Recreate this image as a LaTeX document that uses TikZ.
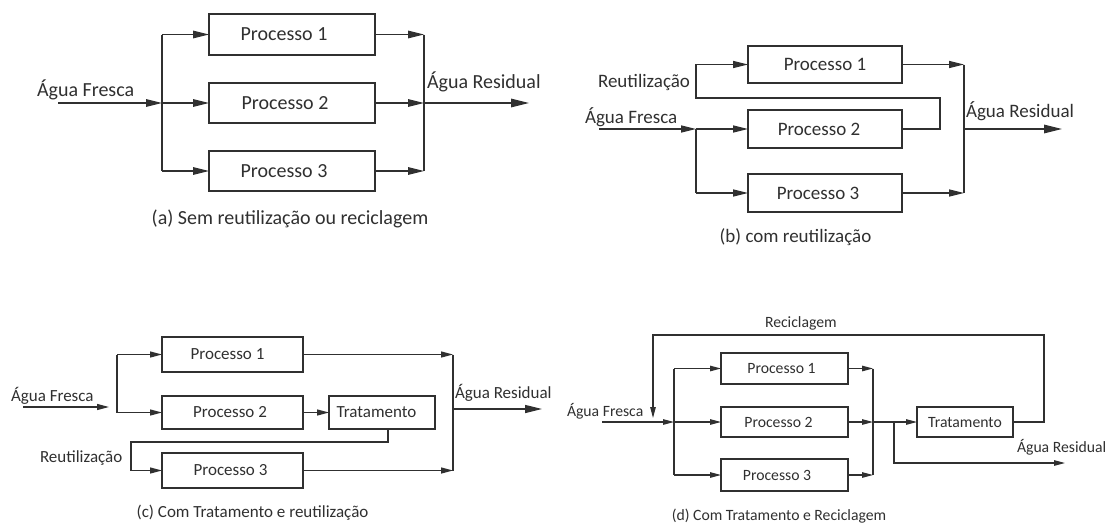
\documentclass[tikz,border=0pt]{standalone}
\usepackage{fontspec}
\setmainfont{Carlito}
\usetikzlibrary{arrows.meta}
\definecolor{ink}{HTML}{303030}
\begin{document}
\begin{tikzpicture}[x=1pt,y=-1pt, color=ink,
  every node/.style={inner sep=0pt, outer sep=0pt},
  pbox/.style={draw, rectangle},
  % one style per panel: font size, cap height, stroke and arrow size
  pa/.style={every node/.append style={font=\fontsize{20}{24}\selectfont, text height=12.9pt, text depth=0pt},
             line width=1.4pt, tip/.style={-{Triangle[length=16pt,width=7.5pt]}},
             bigtip/.style={-{Triangle[length=18pt,width=8.5pt]}}},
  pb/.style={every node/.append style={font=\fontsize{19}{23}\selectfont, text height=12.2pt, text depth=0pt},
             line width=1.4pt, tip/.style={-{Triangle[length=15pt,width=7pt]}},
             bigtip/.style={-{Triangle[length=18pt,width=8.5pt]}}},
  pc/.style={every node/.append style={font=\fontsize{17}{21}\selectfont, text height=10.9pt, text depth=0pt},
             line width=1.3pt, tip/.style={-{Triangle[length=12pt,width=6pt]}},
             bigtip/.style={-{Triangle[length=17pt,width=8pt]}}},
  pd/.style={every node/.append style={font=\fontsize{15.7}{19}\selectfont, text height=10.1pt, text depth=0pt},
             line width=1.2pt, tip/.style={-{Triangle[length=11pt,width=5.5pt]}},
             bigtip/.style={-{Triangle[length=11pt,width=5.5pt]}}}
]
\fill[white] (0,0) rectangle (1110,525);
\useasboundingbox (0,0) rectangle (1110,525);

% ---------- (a) no reuse, no recycling ----------
\begin{scope}[pa]
  \node[pbox, minimum width=166pt, minimum height=41pt, label={[xshift=-8pt]center:Processo 1}] (a1) at (292,34.5) {};
  \node[pbox, minimum width=166pt, minimum height=40pt, label={[xshift=-7pt]center:Processo 2}] (a2) at (292,103) {};
  \node[pbox, minimum width=166pt, minimum height=40pt, label={[xshift=-8pt]center:Processo 3}] (a3) at (292,171) {};
  \coordinate (ain) at (58,103);
  \coordinate (asplit) at (162,103);
  \coordinate (amerge) at (424,103);
  \coordinate (aout) at (529,103);
  \draw[tip] (ain) -- (asplit);
  \draw (asplit |- a1) -- (asplit |- a3);
  \draw[tip] (asplit |- a1) -- (a1.west);
  \draw[tip] (asplit) -- (a2.west);
  \draw[tip] (asplit |- a3) -- (a3.west);
  \draw[tip] (a1.east) -- (amerge |- a1);
  \draw[tip] (a2.east) -- (amerge);
  \draw[tip] (a3.east) -- (amerge |- a3);
  \draw (amerge |- a1) -- (amerge |- a3);
  \draw[bigtip] (amerge) -- (aout);
  \node[anchor=west] (afresh) at (37,90.5) {Água Fresca};
  \node[anchor=west] (awaste) at (427,82.5) {Água Residual};
  \node (acap) at (290,218.5) {(a) Sem reutilização ou reciclagem};
\end{scope}

% ---------- (b) with reuse ----------
\begin{scope}[pb]
  \node[pbox, minimum width=154pt, minimum height=37pt, label={[xshift=0pt]center:Processo 1}] (b1) at (825,64.5) {};
  \node[pbox, minimum width=154pt, minimum height=38pt, label={[xshift=-6pt]center:Processo 2}] (b2) at (825,129) {};
  \node[pbox, minimum width=154pt, minimum height=38pt, label={[xshift=-7pt]center:Processo 3}] (b3) at (825,193) {};
  \coordinate (bin) at (599,129);
  \coordinate (bsplit) at (696,129);
  \coordinate (bturn) at (940,98);
  \coordinate (bleft) at (696,98);
  \coordinate (bmerge) at (964,129);
  \coordinate (bout) at (1062,129);
  \draw[tip] (bin) -- (bsplit);
  \draw (bsplit) -- (bsplit |- b3);
  \draw[tip] (bsplit) -- (b2.west);
  \draw[tip] (bsplit |- b3) -- (b3.west);
  \draw[tip] (b2.east) -- (bturn |- b2) -- (bturn) -- (bleft) -- (bleft |- b1) -- (b1.west);
  \draw[tip] (b1.east) -- (bmerge |- b1);
  \draw[tip] (b3.east) -- (bmerge |- b3);
  \draw (bmerge |- b1) -- (bmerge |- b3);
  \draw[bigtip] (bmerge) -- (bout);
  \node[anchor=west] (breuse) at (598,81) {Reutilização};
  \node[anchor=west] (bfresh) at (585,117) {Água Fresca};
  \node[anchor=west] (bwaste) at (966,111) {Água Residual};
  \node (bcap) at (795.5,236) {(b) com reutilização};
\end{scope}

% ---------- (c) treatment and reuse ----------
\begin{scope}[pc]
  \node[pbox, minimum width=141pt, minimum height=35pt, label={[xshift=-5pt]center:Processo 1}] (c1) at (232.5,354.5) {};
  \node[pbox, minimum width=141pt, minimum height=33pt, label={[xshift=-2.5pt]center:Processo 2}] (c2) at (232.5,412.5) {};
  \node[pbox, minimum width=106pt, minimum height=33pt, label={[xshift=-5.5pt]center:Tratamento}] (ct) at (382,412.5) {};
  \node[pbox, minimum width=141pt, minimum height=35pt, label={[xshift=-2pt]center:Processo 3}] (c3) at (232.5,470.5) {};
  \coordinate (cin) at (23,407);
  \coordinate (cend) at (109,407);
  \coordinate (csplit) at (117,412.5);
  \coordinate (cdrop) at (388,442);
  \coordinate (cleft) at (131,442);
  \coordinate (cmerge) at (453,409);
  \coordinate (cout) at (542,409);
  \draw[tip] (cin) -- (cend);
  \draw (csplit) -- (csplit |- c1);
  \draw[tip] (csplit |- c1) -- (c1.west);
  \draw[tip] (csplit) -- (c2.west);
  \draw[tip] (c2.east) -- (ct.west);
  \draw[tip] (cdrop |- ct.south) -- (cdrop) -- (cleft) -- (cleft |- c3) -- (c3.west);
  \draw[tip] (c1.east) -- (cmerge |- c1);
  \draw[tip] (c3.east) -- (cmerge |- c3);
  \draw (cmerge |- c1) -- (cmerge |- c3);
  \draw[bigtip] (cmerge) -- (cout);
  \node[anchor=west] (cfresh) at (11,396.5) {Água Fresca};
  \node[anchor=west] (creuse) at (40,457.5) {Reutilização};
  \node[anchor=west] (cwaste) at (455,393.5) {Água Residual};
  \node (ccap) at (252.5,512.5) {(c) Com Tratamento e reutilização};
\end{scope}

% ---------- (d) treatment and recycling ----------
\begin{scope}[pd]
  \node[pbox, minimum width=127pt, minimum height=31pt, label={[xshift=-3pt]center:Processo 1}] (d1) at (784.5,368.5) {};
  \node[pbox, minimum width=127pt, minimum height=30pt, label={[xshift=-6pt]center:Processo 2}] (d2) at (784.5,422) {};
  \node[pbox, minimum width=127pt, minimum height=32pt, label={[xshift=-7.5pt]center:Processo 3}] (d3) at (784.5,475) {};
  \node[pbox, minimum width=96pt, minimum height=30pt, label={center:Tratamento}] (dt) at (965,422) {};
  \coordinate (din) at (602,422);
  \coordinate (dsplit) at (674,422);
  \coordinate (dmerge) at (873,422);
  \coordinate (dback) at (1044,335);
  \coordinate (dtop) at (653,335);
  \coordinate (drec) at (653,418);
  \coordinate (dbranch) at (894,463);
  \coordinate (dout) at (1065,463);
  \draw[tip] (din) -- (dsplit);
  \draw (dsplit |- d1) -- (dsplit |- d3);
  \draw[tip] (dsplit |- d1) -- (d1.west);
  \draw[tip] (dsplit) -- (d2.west);
  \draw[tip] (dsplit |- d3) -- (d3.west);
  \draw[tip] (d1.east) -- (dmerge |- d1);
  \draw[tip] (d2.east) -- (dmerge);
  \draw[tip] (d3.east) -- (dmerge |- d3);
  \draw (dmerge |- d1) -- (dmerge |- d3);
  \draw[tip] (dmerge) -- (dt.west);
  \draw[tip] (dt.east) -- (dback |- dt) -- (dback) -- (dtop) -- (drec);
  \draw[tip] (dbranch |- dt) -- (dbranch) -- (dout);
  \node[anchor=west] (drecy) at (765,322) {Reciclagem};
  \node[anchor=west] (dfresh) at (567,411) {Água Fresca};
  \node[anchor=west] (dwaste) at (1017,447) {Água Residual};
  \node (dcap) at (779,515) {(d) Com Tratamento e Reciclagem};
\end{scope}
\end{tikzpicture}
\end{document}
